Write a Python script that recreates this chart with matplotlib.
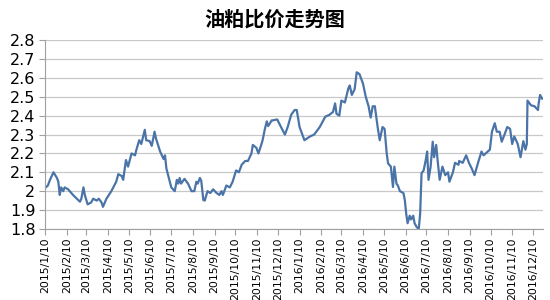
import numpy as np
import pandas as pd
import matplotlib
matplotlib.use("Agg")
import matplotlib.pyplot as plt

plt.rcParams['font.family'] = ['DejaVu Sans', 'Noto Sans CJK SC']

# days after 2015/1/10
day_offsets = [
    1, 4, 7, 12, 17, 19, 21, 23, 26, 28, 33, 40, 50, 52, 55, 57, 61, 66, 69, 74,
    77, 81, 83, 88, 95, 102, 105, 110, 112, 116, 119, 124, 129, 131, 135, 138, 143, 145, 150, 153,
    157, 159, 165, 170, 172, 174, 179, 181, 186, 189, 191, 193, 195, 200, 205, 210, 212, 214, 217, 219,
    222, 224, 227, 229, 233, 237, 241, 246, 250, 253, 255, 260, 265, 269, 274, 278, 282, 287, 291, 296,
    298, 303, 306, 310, 312, 315, 318, 320, 325, 326, 333, 337, 344, 348, 353, 358, 361, 365, 372, 380,
    386, 394, 402, 408, 413, 416, 418, 422, 425, 430, 435, 437, 440, 444, 447, 451, 456, 460, 464, 467,
    470, 473, 477, 480, 484, 487, 490, 492, 496, 499, 501, 504, 506, 509, 514, 516, 518, 520, 523, 525,
    528, 530, 533, 536, 538, 540, 543, 546, 548, 550, 553, 556, 558, 561, 563, 566, 570, 574, 578, 580,
    585, 588, 593, 594, 599, 604, 608, 612, 616, 621, 626, 629, 635, 638, 641, 645, 648, 652, 655, 659,
    663, 667, 670, 673, 678, 682, 686, 689, 691, 692, 697, 702, 707, 708, 710, 713,
]
ratio = [
    2.02, 2.03, 2.06, 2.10, 2.07, 2.05, 1.98, 2.02, 2.00, 2.02, 2.01, 1.98, 1.944, 1.96, 2.02, 1.98, 1.93, 1.94, 1.96, 1.95,
    1.96, 1.94, 1.917, 1.96, 2.00, 2.05, 2.09, 2.08, 2.06, 2.165, 2.13, 2.20, 2.19, 2.22, 2.27, 2.25, 2.325, 2.27, 2.265, 2.24,
    2.315, 2.28, 2.21, 2.17, 2.19, 2.12, 2.05, 2.02, 2.00, 2.06, 2.04, 2.07, 2.04, 2.065, 2.04, 2.00, 2.00, 2.00, 2.05, 2.04,
    2.07, 2.055, 1.953, 1.95, 2.00, 1.99, 2.01, 1.99, 1.98, 2.00, 1.98, 2.03, 2.02, 2.05, 2.11, 2.10, 2.14, 2.16, 2.16, 2.20,
    2.245, 2.23, 2.20, 2.245, 2.27, 2.325, 2.37, 2.345, 2.375, 2.375, 2.38, 2.35, 2.30, 2.34, 2.405, 2.43, 2.43, 2.34, 2.27, 2.29,
    2.30, 2.34, 2.395, 2.405, 2.42, 2.465, 2.41, 2.40, 2.48, 2.47, 2.545, 2.56, 2.51, 2.54, 2.63, 2.62, 2.57, 2.50, 2.45, 2.39,
    2.45, 2.45, 2.34, 2.27, 2.34, 2.33, 2.20, 2.147, 2.13, 2.022, 2.13, 2.04, 2.03, 2.00, 1.99, 1.953, 1.88, 1.83, 1.87, 1.85,
    1.87, 1.83, 1.81, 1.80, 1.88, 2.095, 2.11, 2.165, 2.21, 2.06, 2.13, 2.262, 2.18, 2.245, 2.165, 2.06, 2.13, 2.085, 2.10, 2.05,
    2.10, 2.15, 2.14, 2.16, 2.15, 2.19, 2.15, 2.12, 2.085, 2.15, 2.21, 2.19, 2.21, 2.22, 2.315, 2.36, 2.315, 2.315, 2.262, 2.30,
    2.34, 2.33, 2.25, 2.29, 2.25, 2.18, 2.265, 2.22, 2.25, 2.48, 2.455, 2.45, 2.43, 2.465, 2.51, 2.49,
]
y_ticks = [1.8, 1.9, 2.0, 2.1, 2.2, 2.3, 2.4, 2.5, 2.6, 2.7, 2.8]
y_labels = ['1.8', '1.9', '2', '2.1', '2.2', '2.3', '2.4', '2.5', '2.6', '2.7', '2.8']
month_ticks = pd.date_range('2015-01-01', '2016-12-01', freq='MS') + pd.Timedelta(days=9)

start = pd.Timestamp('2015-01-10')
end = pd.Timestamp('2016-12-24')
dates = start + pd.to_timedelta(day_offsets, unit='D')

fig = plt.figure(figsize=(5.5, 3.0), dpi=100)
ax = fig.add_axes([0.082, 0.237, 0.905, 0.629])

ax.plot(dates, ratio, color='#4a74a8', linewidth=1.6)

ax.set_xlim(start, end)
ax.set_ylim(1.8, 2.8)
ax.set_yticks(y_ticks)
ax.set_yticklabels(y_labels, fontsize=11.5)
ax.set_xticks(month_ticks)
ax.set_xticklabels([f'{d.year}/{d.month}/{d.day}' for d in month_ticks],
                   rotation=90, fontsize=7.8)
ax.tick_params(axis='x', length=4, color='#a0a0a0', pad=2)
ax.tick_params(axis='y', length=4, color='#a0a0a0', pad=3)
ax.grid(axis='y', color='#c8c8c8', linewidth=0.9)
ax.set_axisbelow(True)
for side in ['top', 'right']:
    ax.spines[side].set_visible(False)
for side in ['left', 'bottom']:
    ax.spines[side].set_color('#a0a0a0')

fig.text(0.5, 0.935, '油粕比价走势图', ha='center', va='center', fontsize=14.5,
         fontweight='bold', family=['Noto Sans CJK SC'])

fig.savefig('out.png', dpi=100)
